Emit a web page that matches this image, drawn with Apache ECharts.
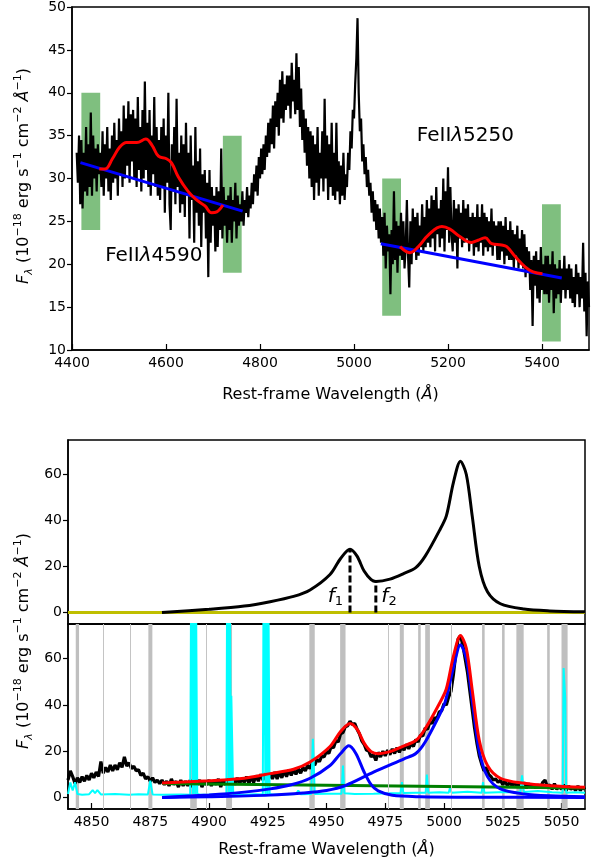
<!DOCTYPE html>
<html>
<head>
<meta charset="utf-8">
<script src="https://cdn.jsdelivr.net/npm/echarts@6/dist/echarts.min.js"></script>
<style>
html, body { margin: 0; padding: 0; background: #fff; }
#chart { width: 600px; height: 862px; }
</style>
</head>
<body>
<div id="chart"></div>
<script>
// top panel: spectrum around Hbeta / [OIII] with the two FeII windows (2.5 A pixels)
const topStart = 4410, topStep = 2.5;
const topFlux = [
    33, 29.5, 35, 27, 34.5, 26.5, 33, 28.5, 36, 28,
    34, 29, 37.7, 28, 35, 30, 33.5, 28.5, 34, 30.5,
    33, 29, 35.5, 28, 34, 30, 36, 28.5, 33.5, 27.5,
    35, 29.5, 36.5, 30, 34.5, 28, 37, 30.5, 35.5, 29,
    38.5, 30, 37, 31.5, 39, 29.5, 37.5, 32, 38, 30,
    37, 29, 39.5, 31, 36, 28.5, 38, 30, 41.3, 31,
    36.5, 29, 38, 28, 35, 30.5, 39.5, 29, 36, 28,
    34.5, 27.5, 36, 29, 37, 26, 35, 29.5, 40, 27,
    24, 34, 28.5, 36, 27, 39.3, 29, 33, 26, 35,
    27, 34, 25.5, 36.5, 28, 33, 23, 35, 27.5, 31.5,
    22.5, 36, 26, 32, 24.5, 33.5, 22, 30.5, 26, 31,
    23, 29.5, 18.5, 31, 22.5, 29, 24.5, 28, 21.5, 29,
    22, 28.5, 24, 33.5, 23, 29, 24.5, 27.5, 22.5, 28,
    24, 29, 22.5, 27.5, 25, 29.5, 23, 28, 24.5, 27,
    25, 28.5, 24.5, 27.5, 26, 29, 25.5, 28, 26.5, 29.5,
    27, 30.5, 28.5, 31.5, 28, 32.5, 30, 33.5, 30.5, 34,
    31, 35, 32.5, 36.5, 33, 37, 34, 38.5, 33.5, 39,
    36, 40, 35, 41.5, 37, 42.5, 36.5, 41, 38, 42,
    38.5, 42, 37, 43.5, 39, 41.5, 37.5, 44.6, 38, 43,
    36, 40.5, 34.5, 38, 33, 37, 31.5, 36, 30, 35.5,
    29, 35, 27.5, 34, 29.5, 36, 28, 33, 30, 35.5,
    28.5, 39.3, 30, 35, 27.5, 34, 29, 36.5, 28, 33,
    27.5, 36.5, 28.5, 32, 27, 31.5, 28, 33, 27.5, 30.5,
    29, 33, 31, 35.5, 33.5, 38, 37, 41, 44, 48.7,
    40, 35.5, 37, 32, 34, 30.5, 32.5, 29, 31, 28,
    29.5, 26, 28.5, 25, 27.5, 24, 27, 23, 26.5, 22.5,
    25.5, 21, 26, 19.5, 24.5, 21.5, 23.5, 16.5, 24, 20,
    28.5, 20.5, 25, 19, 24.5, 21, 26, 20.5, 25, 19.5,
    22, 27.5, 21, 17.3, 25, 20, 26.5, 21.5, 25.5, 20.5,
    26, 21, 24.5, 22, 27, 21.5, 25.5, 22, 27.5, 22.5,
    26.5, 22, 28, 23, 27.5, 21.5, 29, 23.5, 26.5, 22,
    27.5, 23, 30, 21.5, 28.5, 24, 31.3, 22.5, 29, 23.5,
    21.5, 27.5, 22.5, 26.5, 19.5, 27, 23, 26, 22, 27.5,
    22.5, 26.5, 23, 27, 21.5, 25.5, 22.5, 26, 21, 25.5,
    22, 27, 21.5, 25.5, 22.5, 27, 21, 26, 22, 25.5,
    21.5, 25, 22, 26.5, 21, 25, 22.5, 24.5, 20.5, 25,
    20.5, 25, 21.5, 24.5, 20, 25.5, 21, 24, 20.5, 25,
    20.5, 24, 19.5, 23.5, 21, 24.5, 19.5, 23, 20, 24,
    19.5, 23.5, 18.5, 22, 19, 21.5, 17, 20.5, 12.8, 21,
    17.5, 21.5, 16, 20.5, 15.5, 22, 17, 20, 16.5, 21,
    16.5, 21, 15.5, 20, 17, 21.5, 14.3, 20, 16, 19.5,
    16.5, 20.5, 15.5, 19.5, 17, 21, 16, 19.5, 17, 20,
    16, 19.5, 15.5, 18.5, 15, 20, 16.5, 19, 15, 18.5,
    16, 22.5, 14.5, 19, 11.6, 18, 15
];
const contAWave = [4418, 4763];
const contAFlux = [31.85, 26.2];
const contBWave = [5057, 5442];
const contBFlux = [22.4, 18.4];
const feAWave = [4458, 4470, 4486, 4502, 4516, 4538, 4557, 4570, 4584, 4601, 4612, 4626, 4647, 4665, 4683, 4697, 4708, 4721];
const feAFlux = [31.1, 31.1, 32.3, 33.7, 34.2, 34.2, 34.6, 33.9, 32.6, 32.3, 31.8, 30.2, 28.5, 27.5, 26.8, 26.0, 26.1, 26.9];
const feBWave = [5098, 5119, 5137, 5158, 5187, 5204, 5226, 5250, 5264, 5279, 5293, 5314, 5325, 5343, 5364, 5381, 5401];
const feBFlux = [22.05, 21.35, 22.05, 23.4, 24.4, 24.1, 23.2, 22.55, 22.8, 23.1, 22.4, 22.25, 22.05, 20.9, 19.7, 19.1, 18.9];
// continuum windows
const winLo = [4420, 4721, 5060, 5400];
const winHi = [4460, 4761, 5100, 5440];
const winBot = [24, 19, 14, 11];
const winTop = [40, 35, 30, 27];

// bottom panels: [OIII] fit (1 A pixels)
const botStart = 4840, botStep = 1;
const botFlux = [
    7.5, 11.5, 9, 6, 8.5, 6.5, 9, 7, 9.5, 7.5,
    10.5, 8.5, 11, 9, 15.5, 10.5, 13, 11, 14, 11.5,
    14, 12, 15, 13, 17.5, 13.5, 15, 12.5, 13.5, 11.5,
    12, 9.5, 10.5, 8, 9, 7, 8.5, 6.5, 7.5, 6,
    7.5, 5.5, 7, 5, 8, 5.5, 7, 4.5, 7.5, 5,
    7, 5, 7.5, 4.5, 7, 5.5, 7.5, 4.5, 7, 5.5,
    7.5, 5, 7, 5.5, 8, 4.5, 7.5, 5.5, 8, 5.5,
    8, 5.5, 8.5, 6, 8, 6.5, 9, 6, 9, 6.5,
    9.5, 7, 10, 7.5, 10.5, 7, 10.5, 8, 11, 8,
    11, 8.5, 11.5, 9, 12, 9.5, 12, 10, 12.5, 10.5,
    13, 11.5, 14, 12.5, 15, 14, 16.5, 15.5, 18, 17.5,
    20, 19, 22, 21.5, 24.5, 24, 27.5, 28, 30.5, 31,
    33, 31.5, 32, 29.5, 27.5, 24.5, 23, 20.5, 20, 17.5,
    18.5, 16, 19.5, 17.5, 20, 18, 20.5, 18.5, 21, 19,
    21.5, 19.5, 22, 20.5, 23, 21, 23.5, 22, 25, 24,
    27, 26.5, 30, 29.5, 32.5, 32, 34.5, 34, 37, 37.5,
    40.5, 40, 43.5, 46, 53, 62, 68.5, 70, 66, 60,
    54, 46, 38, 30, 23.5, 18, 14.5, 11.5, 13, 10,
    9, 7.5, 8, 6.5, 7.5, 5.5, 7, 5, 6.5, 5,
    6.5, 4.5, 6, 4.5, 6.5, 4, 6, 4.5, 5.5, 4,
    5.5, 4, 6.5, 7.5, 4.5, 5.5, 3.5, 6, 3.5, 5,
    3.5, 5.5, 3, 5, 3.5, 4.5, 3, 5, 3, 4.5,
    3.5
];
const cyanWave = [4840, 4841, 4842, 4843, 4844, 4846, 4849, 4850.5, 4851.5, 4852.5, 4854, 4860, 4866, 4870, 4874, 4875, 4876, 4880, 4888, 4892,
    4892.5, 4893.2, 4893.4, 4894.1, 4894.3, 4895, 4896, 4900, 4904, 4907.4, 4907.8, 4908.5, 4908.7, 4909.4, 4909.5, 4910, 4910.3, 4915, 4920, 4922.9,
    4923.3, 4924, 4924.2, 4924.9, 4925.1, 4925.8, 4927, 4932, 4937, 4938, 4939, 4943.5, 4944.2, 4945, 4950, 4956.4, 4957, 4957.6, 4962, 4970,
    4977, 4981.5, 4982.1, 4982.7, 4988, 4992.2, 4992.7, 4993.3, 4998, 5002, 5002.6, 5003.2, 5010, 5016, 5016.6, 5017.2, 5026, 5032.5, 5033.2, 5034,
    5040, 5046, 5050.5, 5050.9, 5051.3, 5051.6, 5052, 5056, 5060];
const cyanFlux = [1.5, 6.5, 3, 6.6, 1.5, 1.2, 1.4, 3.2, 1.8, 3.2, 1.3, 1.5, 1.2, 1.4, 1.3, 7.3, 1.3, 1.2, 1.3, 1.2,
    120, 1.5, 120, 1.5, 120, 1.5, 1.3, 1.2, 1.4, 1.3, 120, 1.5, 120, 1.5, 44, 44, 1.3, 1.2, 1.4, 1.3,
    120, 1.5, 120, 1.5, 120, 1.5, 1.3, 1.3, 1.5, 3, 1.4, 1.5, 25.4, 1.5, 1.6, 1.6, 13.8, 1.8, 1.5, 1.6,
    1.8, 1.8, 6.6, 1.9, 2, 2, 9.9, 2, 2.2, 2, 4.4, 2, 2.5, 2, 6.6, 2, 2.3, 2.2, 9.5, 2.3,
    2.8, 2.2, 2, 56, 56, 42.7, 2, 2.2, 2];
const contWave = [4880, 5060];
const contFlux = [6.0, 4.1];
const b1Wave = [4880, 4900, 4915, 4926, 4935, 4943, 4951.5, 4956, 4959.5, 4962.5, 4966, 4969, 4972, 4978, 4990, 5010, 5060];
const b1Flux = [0, 1.1, 2.3, 3.7, 5.5, 8.3, 13.8, 19, 22.3, 19, 11, 5.5, 2.8, 0.9, 0.3, 0.1, 0];
const b2Wave = [4880, 4900, 4926, 4940, 4950, 4958, 4970, 4983, 4988, 4992, 4998, 5000.5, 5004, 5007, 5009.5, 5012, 5015, 5018.5, 5024, 5034, 5045, 5060];
const b2Flux = [0, 0.3, 1, 1.9, 3, 5.1, 10.9, 16.7, 19, 24, 35.5, 41.3, 56, 66, 60, 42, 20, 9, 3.7, 1.5, 0.7, 0.35];
const fitWave = [4880, 4900, 4915, 4926, 4936, 4943, 4951.5, 4956, 4960, 4963, 4966, 4969, 4972, 4977, 4982, 4988, 4992, 4998, 5001, 5004, 5007, 5009.5, 5012, 5015, 5018.5, 5024, 5034, 5045, 5060];
const fitFlux = [6.2, 7.2, 8.3, 10.3, 12.2, 15.3, 22, 28.5, 32, 29.5, 23.5, 19.8, 18.9, 19.8, 21.9, 24.6, 29.7, 40.5, 47, 61, 70, 64.5, 46.5, 24.7, 13.8, 8.3, 6.1, 5.1, 4.4];
const modWave = [4880, 4900, 4915, 4926, 4936, 4943, 4951.5, 4956, 4960, 4963, 4966, 4969, 4971, 4977, 4983, 4988, 4992, 4998, 5001, 5004, 5007, 5009.5, 5012, 5015, 5018.5, 5024, 5034, 5045, 5060];
const modFlux = [0, 1.4, 2.8, 4.7, 7, 9.8, 16.5, 23.5, 27.5, 24.5, 18, 14.3, 13.5, 14.5, 17, 19.5, 24.5, 35.5, 42, 56.5, 65.8, 60, 42, 20, 9, 3.8, 1.5, 0.7, 0.3];
const fWave = [4960, 4971];
const fLevel = [27.5, 13.5];
const maskLo = [4843.3, 4874.2, 4892, 4907.3, 4942.7, 4955.8, 4981.2, 4989, 4992, 5016.2, 5024.7, 5030.8, 5043.9, 5050];
const maskHi = [4844.7, 4875.9, 4894.8, 4909.8, 4945, 4958.1, 4982.9, 4990.1, 4994, 5017.3, 5025.8, 5033.9, 5045, 5052.6];
const thinLines = [4855, 4866.5, 4899, 4976.3, 5003];

const topXTicks = [4400, 4600, 4800, 5000, 5200, 5400];
const topYTicks = [10, 15, 20, 25, 30, 35, 40, 45, 50];
const botXTicks = [4850, 4875, 4900, 4925, 4950, 4975, 5000, 5025, 5050];
const botYTicks = [0, 20, 40, 60];

const FONT = 'DejaVu Sans';

function pairs(w, f) {
    return w.map((x, i) => [x, f[i]]);
}
function grid1(start, step, f) {
    return f.map((v, i) => [start + i * step, v]);
}

function xAxis(grid, min, max, ticks, showLabel, name, gap) {
    return {
        type: 'value', gridIndex: grid, min: min, max: max,
        splitLine: { show: false },
        axisLine: { show: true, onZero: false, lineStyle: { color: '#000', width: 1.5 } },
        axisTick: { show: showLabel, inside: true, length: 6, customValues: ticks, lineStyle: { color: '#000', width: 1.2 } },
        axisLabel: { show: showLabel, customValues: ticks, formatter: v => String(v), color: '#000', fontFamily: FONT, fontSize: 14, margin: 6 },
        name: name, nameLocation: 'middle', nameGap: gap,
        nameTextStyle: {
            color: '#000', fontFamily: FONT, fontSize: 16,
            rich: { it: { fontFamily: FONT, fontSize: 16, fontStyle: 'italic', color: '#000' } }
        }
    };
}
function yAxis(grid, min, max, ticks) {
    return {
        type: 'value', gridIndex: grid, min: min, max: max,
        splitLine: { show: false },
        axisLine: { show: true, onZero: false, lineStyle: { color: '#000', width: 1.5 } },
        axisTick: { show: true, inside: false, length: 5, customValues: ticks, lineStyle: { color: '#000', width: 1.2 } },
        axisLabel: { customValues: ticks, formatter: v => String(v), color: '#000', fontFamily: FONT, fontSize: 14, margin: 6 }
    };
}
function line(name, xi, data, color, width, z, extra) {
    return Object.assign({
        name: name, type: 'line', xAxisIndex: xi, yAxisIndex: xi, data: data,
        symbol: 'none', z: z, silent: true,
        lineStyle: { color: color, width: width }
    }, extra || {});
}

const yTitle = '{it|F}{sub|λ} (10{sup|−18} erg s{sup|−1} cm{sup|−2} {it|Å}{sup|−1})';
const titleRich = {
    n: { fontFamily: FONT, fontSize: 16, lineHeight: 22, color: '#000' },
    it: { fontFamily: FONT, fontSize: 16, fontStyle: 'italic', lineHeight: 22, color: '#000' },
    sup: { fontFamily: FONT, fontSize: 11, verticalAlign: 'top', color: '#000' },
    sub: { fontFamily: FONT, fontSize: 11, fontStyle: 'italic', verticalAlign: 'bottom', color: '#000' }
};

const chart = echarts.init(document.getElementById('chart'));
const option = {
    animation: false,
    backgroundColor: '#fff',
    grid: [
        { left: 72, top: 7, width: 517, height: 343, show: true, borderColor: '#000', borderWidth: 1.5 },
        { left: 68, top: 440, width: 517, height: 184, show: true, borderColor: '#000', borderWidth: 1.5 },
        { left: 68, top: 624, width: 517, height: 185, show: true, borderColor: '#000', borderWidth: 1.5 }
    ],
    xAxis: [
        xAxis(0, 4400, 5500, topXTicks, true, 'Rest-frame Wavelength ({it|Å})', 37),
        xAxis(1, 4840, 5060, botXTicks, false, '', 30),
        xAxis(2, 4840, 5060, botXTicks, true, 'Rest-frame Wavelength ({it|Å})', 33)
    ],
    yAxis: [
        yAxis(0, 10, 50, topYTicks),
        yAxis(1, -5, 75, botYTicks),
        yAxis(2, -5, 75, botYTicks)
    ],
    graphic: [
        { type: 'text', x: 24, y: 176, rotation: Math.PI / 2,
          style: { text: yTitle, rich: titleRich, font: '16px ' + FONT, fill: '#000', align: 'center', verticalAlign: 'middle' } },
        { type: 'text', x: 24, y: 641, rotation: Math.PI / 2,
          style: { text: yTitle, rich: titleRich, font: '16px ' + FONT, fill: '#000', align: 'center', verticalAlign: 'middle' } }
    ],
    series: [
        // top panel
        line('windows', 0, [], '#000', 0, 1, {
            markArea: {
                silent: true,
                itemStyle: { color: 'rgba(0,128,0,0.5)' },
                data: winLo.map((lo, i) => [{ coord: [lo, winBot[i]] }, { coord: [winHi[i], winTop[i]] }])
            }
        }),
        line('spectrum', 0, grid1(topStart, topStep, topFlux), '#000', 2.2, 2),
        line('contA', 0, pairs(contAWave, contAFlux), '#0000ff', 3, 3),
        line('contB', 0, pairs(contBWave, contBFlux), '#0000ff', 3, 3),
        line('feA', 0, pairs(feAWave, feAFlux), '#ff0000', 3, 4, { smooth: 0.4 }),
        line('feB', 0, pairs(feBWave, feBFlux), '#ff0000', 3, 4, { smooth: 0.4 }),
        {
            type: 'scatter', xAxisIndex: 0, yAxisIndex: 0, symbolSize: 0, silent: true, z: 5,
            itemStyle: { opacity: 1 },
            data: [
                { value: [4574, 21], label: { formatter: 'FeII{l|λ}4590' } },
                { value: [5237, 35], label: { formatter: 'FeII{l|λ}5250' } }
            ],
            label: {
                show: true, position: 'inside', color: '#000', fontFamily: FONT, fontSize: 20, textBorderWidth: 0,
                rich: { l: { fontFamily: FONT, fontSize: 20, fontStyle: 'italic', color: '#000' } }
            }
        },
        // middle panel
        line('zero', 1, [[4840, 0], [5060, 0]], '#bfbf00', 3, 2),
        line('model', 1, pairs(modWave, modFlux), '#000', 3, 3, { smooth: 0.3 }),
        line('f1', 1, [[fWave[0], 0], [fWave[0], fLevel[0]]], '#000', 3, 4, { lineStyle: { color: '#000', width: 3, type: [7, 3] } }),
        line('f2', 1, [[fWave[1], 0], [fWave[1], fLevel[1]]], '#000', 3, 4, { lineStyle: { color: '#000', width: 3, type: [7, 3] } }),
        {
            type: 'scatter', xAxisIndex: 1, yAxisIndex: 1, symbolSize: 0, silent: true, z: 5,
            itemStyle: { opacity: 1 },
            data: [
                { value: [4953.8, 7], label: { formatter: '{i|f}{s|1}' } },
                { value: [4976.6, 7], label: { formatter: '{i|f}{s|2}' } }
            ],
            label: {
                show: true, position: 'inside', color: '#000', textBorderWidth: 0,
                rich: {
                    i: { fontFamily: FONT, fontSize: 20, fontStyle: 'italic', color: '#000', lineHeight: 24 },
                    s: { fontFamily: FONT, fontSize: 13, color: '#000', verticalAlign: 'bottom' }
                }
            }
        },
        // bottom panel
        line('mask', 2, [], '#000', 0, 1, {
            markArea: {
                silent: true,
                itemStyle: { color: '#bfbfbf' },
                data: maskLo.map((lo, i) => [{ xAxis: lo }, { xAxis: maskHi[i] }])
            },
            markLine: {
                silent: true, symbol: 'none', label: { show: false },
                lineStyle: { color: '#c4c4c4', width: 1, type: 'solid' },
                data: thinLines.map(x => ({ xAxis: x }))
            }
        }),
        line('data', 2, grid1(botStart, botStep, botFlux), '#000', 3.2, 2),
        line('sky', 2, pairs(cyanWave, cyanFlux), '#00ffff', 2, 3),
        line('continuum', 2, pairs(contWave, contFlux), '#007f00', 3, 4),
        line('comp1', 2, pairs(b1Wave, b1Flux), '#0000ff', 3, 5, { smooth: 0.3 }),
        line('comp2', 2, pairs(b2Wave, b2Flux), '#0000ff', 3, 5, { smooth: 0.3 }),
        line('fit', 2, pairs(fitWave, fitFlux), '#ff0000', 3, 6, { smooth: 0.3 })
    ]
};
chart.setOption(option);
</script>
</body>
</html>
